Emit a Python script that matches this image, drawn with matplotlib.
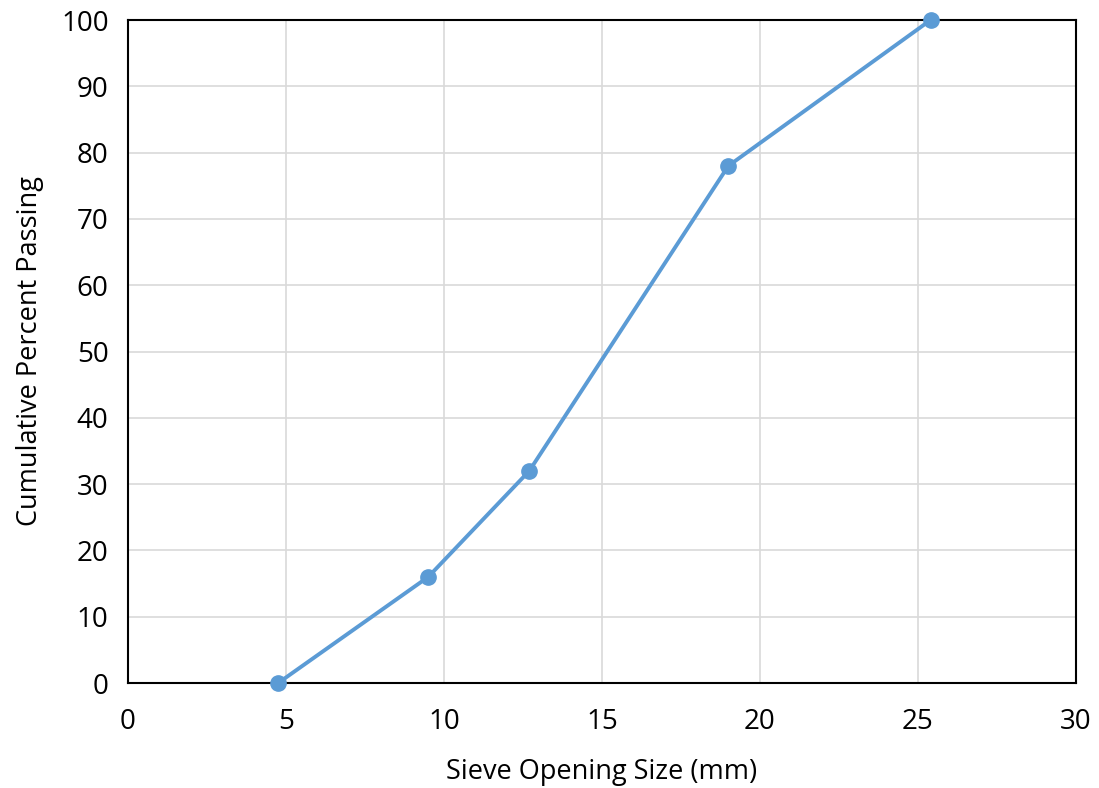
import matplotlib.pyplot as plt

# Sieve analysis data
sieve_size_mm = [4.75, 9.5, 12.7, 19.0, 25.4]
percent_passing = [0, 16, 32, 78, 100]

plt.rcParams['font.family'] = ['Open Sans', 'DejaVu Sans']

fig = plt.figure(figsize=(10.99, 7.88), dpi=100)
ax = fig.add_axes([0.1165, 0.1332, 0.8625, 0.8414])

ax.plot(sieve_size_mm, percent_passing, color='#5B9BD5', linewidth=2.8,
        marker='o', markersize=11, clip_on=False, zorder=5)

ax.set_xlim(0, 30)
ax.set_ylim(0, 100)
ax.set_xticks(range(0, 31, 5))
ax.set_yticks(range(0, 101, 10))
ax.grid(True, color='#D9D9D9', linewidth=1.2)
ax.set_axisbelow(True)

for s in ax.spines.values():
    s.set_color('black')
    s.set_linewidth(1.5)

ax.tick_params(length=0, labelsize=20)
ax.tick_params(axis='x', pad=18)
ax.tick_params(axis='y', pad=14)
ax.set_xlabel('Sieve Opening Size (mm)', fontsize=19.5, labelpad=16)
ax.set_ylabel('Cumulative Percent Passing', fontsize=19.5, labelpad=12)

fig.savefig('out.png', dpi=100)
